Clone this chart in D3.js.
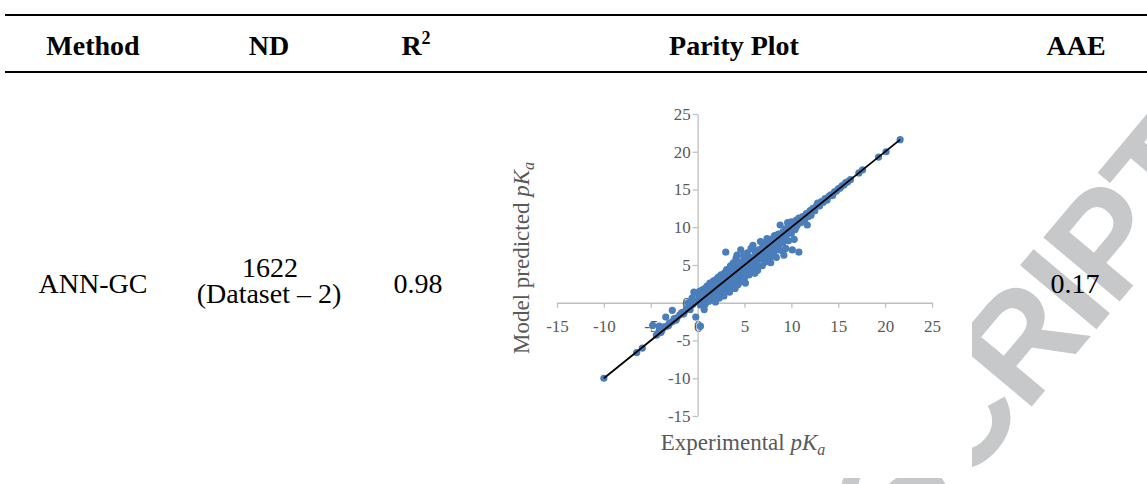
<!DOCTYPE html>
<html><head><meta charset="utf-8">
<script src="https://cdn.jsdelivr.net/npm/d3@7"></script>
<style>html,body{margin:0;padding:0;background:#fff;overflow:hidden}</style>
</head><body>
<svg id="c" width="1147" height="484"></svg>
<script>
// ---------- data ----------
const headers = ["Method", "ND", "R", "Parity Plot", "AAE"];
const methodName = "ANN-GC";
const ndLines = ["1622", "(Dataset \u2013 2)"];
const r2Value = "0.98";
const aaeValue = "0.17";
const xTicks = [-15, -10, -5, 0, 5, 10, 15, 20, 25];
const yTicks = [-15, -10, -5, 0, 5, 10, 15, 20, 25];
const parityRange = [-10, 21.6];

// [experimental pKa, predicted pKa]
const negativePoints = [
  [-10,-10],[-6.5,-6.6],[-5.9,-6.0],[-4.8,-3.0],[-4.1,-3.1],[-4.4,-4.3],[-4.1,-4.0],[-3.8,-3.6],
  [-3.6,-3.2],[-3.3,-3.1],[-3.0,-2.7],[-2.7,-2.5],[-2.5,-2.1],[-2.2,-2.0],[-1.9,-1.6],[-1.7,-1.3],
  [-1.4,-1.2],[-1.2,-0.8],[-0.9,-0.7],[-0.7,-0.3],[-0.5,-0.2],[-0.3,0.1],[-3.4,-1.9],[-2.7,-1.0],
  [-1.0,0.0],[-0.4,1.4],[-0.6,0.6],[-0.2,-1.9],[0.3,-3.1],[0.7,-0.9],[-3.9,-3.9],[-3.1,-3.0],
  [-2.3,-2.3],[-1.5,-1.5],[-0.8,-0.9]
];
const corePoints = [
  [0,0.3],[0.1,1.0],[0.2,0.4],[0.2,1.5],[0.3,-0.3],[0.4,0.8],[0.5,0.2],[0.5,1.7],[0.6,1.2],[0.7,0.5],
  [0.8,-0.2],[0.8,1.9],[0.9,0.9],[1.0,2.2],[1.0,0.6],[1.1,1.4],[1.2,0.2],[1.2,1.9],[1.3,2.6],[1.4,1.1],
  [1.5,0.7],[1.5,2.3],[1.6,1.6],[1.7,2.9],[1.8,0.9],[1.8,2.0],[1.9,0.1],[1.9,1.4],[2.0,2.6],[2.0,3.1],
  [2.1,1.2],[2.2,2.2],[2.2,3.4],[2.3,0.6],[2.4,1.8],[2.4,2.9],[2.5,3.7],[2.6,1.4],[2.7,2.4],[2.8,3.3],
  [2.8,0.9],[2.9,4.0],[3.0,6.7],[3.0,1.8],[3.0,2.9],[3.1,4.4],[3.2,2.3],[3.3,3.5],[3.4,1.4],[3.5,4.9],
  [3.5,3.0],[3.6,2.0],[3.7,4.1],[3.8,5.3],[3.8,2.6],[3.9,3.5],[4.0,1.9],[4.0,4.7],[4.1,5.9],[4.2,6.3],
  [4.2,3.1],[4.3,2.4],[4.4,4.2],[4.5,5.4],[4.6,7.0],[4.6,3.6],[4.7,2.8],[4.8,4.9],[4.9,4.6],[4.9,6.2],
  [5.0,3.3],[5.0,5.6],[5.1,2.6],[5.2,4.4],[5.3,6.6],[5.4,5.1],[5.5,3.7],[5.6,6.0],[5.7,7.2],[5.8,4.8],
  [5.9,7.6],[6.0,5.5],[6.1,3.9],[6.2,6.5],[6.3,4.6],[6.4,4.3],[6.5,7.0],[6.6,5.8],[6.7,8.1],[6.8,6.2],
  [6.9,4.9],[7.0,7.9],[7.0,6.8],[7.2,5.4],[7.3,7.4],[7.4,8.5],[7.5,6.3],[7.6,7.0],[7.7,5.9],[7.8,5.3],
  [7.9,8.2],[8.0,7.6],[8.1,6.6],[8.2,8.9],[8.3,7.2],[8.4,6.0],[8.5,8.3],[8.6,9.1],[8.7,7.7],[8.8,10.3],
  [8.9,8.0],[9.0,6.9],[9.1,9.4],[9.2,6.3],[9.3,8.6],[9.4,9.8],[9.5,9.0],[9.6,10.6],[9.7,8.2],[9.8,9.5],
  [9.9,10.1],[10.0,9.2],[10.1,7.0],[10.2,10.4],[10.4,9.7],[10.5,10.9],[10.6,10.2],[10.8,11.2],[10.8,6.7],
  [11.0,10.6],[11.2,11.4],[11.4,10.9],[11.6,11.8],[11.7,10.3],[11.8,11.4],[12.0,12.2],[12.1,11.6]
];
const corePointsDense = [
  [0.3,0.9],[0.6,0.0],[0.9,1.6],[1.1,0.9],[1.3,1.7],[1.4,2.1],[1.6,1.0],[1.7,2.4],[1.9,2.3],[2.1,1.8],
  [2.3,2.6],[2.5,2.0],[2.6,3.0],[2.7,1.6],[2.9,2.3],[3.1,3.3],[3.2,3.9],[3.3,2.6],[3.4,4.4],[3.6,3.7],
  [3.7,2.8],[3.9,4.3],[4.1,3.6],[4.3,4.9],[4.4,3.0],[4.5,4.0],[4.7,5.2],[4.8,3.9],[5.1,5.0],[5.3,4.0],
  [5.5,5.8],[5.7,4.4],[5.9,5.2],[6.1,6.8],[6.3,5.6],[6.5,4.9],[6.7,6.4],[6.9,7.3],[7.1,6.0],[7.3,6.5],
  [7.6,7.8],[7.8,6.6],[8.0,8.5],[8.2,7.4],[8.5,7.0],[8.8,8.6],[9.1,8.0],[9.4,7.2],[9.7,9.6],[10.0,10.7],
  [10.3,8.4]
];
const upperPoints = [
  [12.3,12.5],[12.5,12.2],[12.7,12.9],[12.8,13.2],[13.0,12.8],[13.2,13.4],[13.4,13.3],[13.6,13.8],
  [13.8,13.6],[14.0,14.1],[14.2,14.3],[14.4,14.2],[14.6,14.7],[14.8,14.8],[15.0,15.1],[15.2,15.2],
  [15.4,15.5],[15.6,15.6],[15.8,15.9],[16.0,16.0],[16.3,16.3],[17.2,17.2],[17.6,17.6],[19.3,19.3],
  [20.1,20.0],[21.6,21.6]
];

// ---------- drawing ----------
const svg = d3.select("#c");
const serif = "'Liberation Serif','Times New Roman',serif";
const sans = "'Liberation Sans',Arial,sans-serif";

// watermark (partially hidden behind the plot image)
const wm = svg.append("g");
const wmFont = 145;
const wmAngle = -50;
const wmText = wm.append("text").text("MANUSCRIPT")
  .attr("font-family", sans).attr("font-weight", "bold")
  .attr("font-size", wmFont).attr("letter-spacing", -4).attr("fill", "#c7c8ca");
const wn = wmText.node();
const ox = wn.getSubStringLength(0, 6) + wn.getSubStringLength(6, 1) / 2;
const oy = -0.358 * wmFont;
const th = wmAngle * Math.PI / 180;
const rx = ox * Math.cos(th) - oy * Math.sin(th);
const ry = ox * Math.sin(th) + oy * Math.cos(th);
wm.attr("transform", `translate(${1018 - rx},${342 - ry}) rotate(${wmAngle})`);
svg.append("rect").attr("x", 480).attr("y", 90).attr("width", 492).attr("height", 388).attr("fill", "#fff");

// table rules
[15, 72].forEach(yy => svg.append("line").attr("x1", 5).attr("x2", 1147)
  .attr("y1", yy).attr("y2", yy).attr("stroke", "#000").attr("stroke-width", 2.2));

// headers
const headerX = [93, 269, 416, 734, 1076];
headers.forEach((h, i) => {
  const t = svg.append("text").attr("x", headerX[i]).attr("y", 55)
    .attr("text-anchor", "middle").attr("font-family", serif)
    .attr("font-weight", "bold").attr("font-size", 28).attr("fill", "#000").text(h);
  if (h === "R") t.append("tspan").attr("font-size", 18).attr("dy", -11).text("2");
});

// row cells
const cell = (x, y, s) => svg.append("text").attr("x", x).attr("y", y)
  .attr("text-anchor", "middle").attr("font-family", serif)
  .attr("font-size", 28).attr("fill", "#000").text(s);
cell(93, 293, methodName);
cell(270, 277, ndLines[0]);
cell(269, 303, ndLines[1]);
cell(418, 293, r2Value);
cell(1075, 293, aaeValue);

// parity plot
const x = d3.scaleLinear().domain([-15, 25]).range([557, 932]);
const y = d3.scaleLinear().domain([-15, 25]).range([416, 114]);
const axisColor = "#bfbfbf", labelColor = "#595959";

const gx = svg.append("g").attr("transform", `translate(0,${y(0)})`)
  .call(d3.axisBottom(x).tickValues(xTicks).tickFormat(d => String(d))
    .tickSize(5).tickSizeOuter(0).tickPadding(12));
const gy = svg.append("g").attr("transform", `translate(${x(0)},0)`)
  .call(d3.axisLeft(y).tickValues(yTicks).tickFormat(d => String(d))
    .tickSize(5).tickSizeOuter(0).tickPadding(2));
[gx, gy].forEach(g => {
  g.select(".domain").attr("stroke", axisColor).attr("stroke-width", 1.3);
  g.selectAll(".tick line").attr("stroke", axisColor).attr("stroke-width", 1.3);
  g.selectAll(".tick text").attr("fill", labelColor).attr("font-family", serif).attr("font-size", 17);
});

const allPoints = negativePoints.concat(corePoints, corePointsDense, upperPoints);
svg.append("g").selectAll("circle").data(allPoints).join("circle")
  .attr("cx", d => x(d[0])).attr("cy", d => y(d[1])).attr("r", 3.6)
  .attr("fill", "#4a7ebb");

svg.append("path").datum(parityRange)
  .attr("d", d3.line().x(d => x(d)).y(d => y(d)))
  .attr("stroke", "#000").attr("stroke-width", 1.8).attr("fill", "none");

// axis titles
const xt = svg.append("text").attr("x", 743).attr("y", 450).attr("text-anchor", "middle")
  .attr("font-family", serif).attr("font-size", 23).attr("fill", labelColor);
xt.append("tspan").text("Experimental ");
xt.append("tspan").attr("font-style", "italic").text("pK");
xt.append("tspan").attr("font-style", "italic").attr("font-size", 16).attr("dy", 5).text("a");

const yt = svg.append("text").attr("transform", `translate(529,258) rotate(-90)`)
  .attr("text-anchor", "middle").attr("font-family", serif).attr("font-size", 23).attr("fill", labelColor);
yt.append("tspan").text("Model predicted ");
yt.append("tspan").attr("font-style", "italic").text("pK");
yt.append("tspan").attr("font-style", "italic").attr("font-size", 16).attr("dy", 5).text("a");
</script>
</body></html>
